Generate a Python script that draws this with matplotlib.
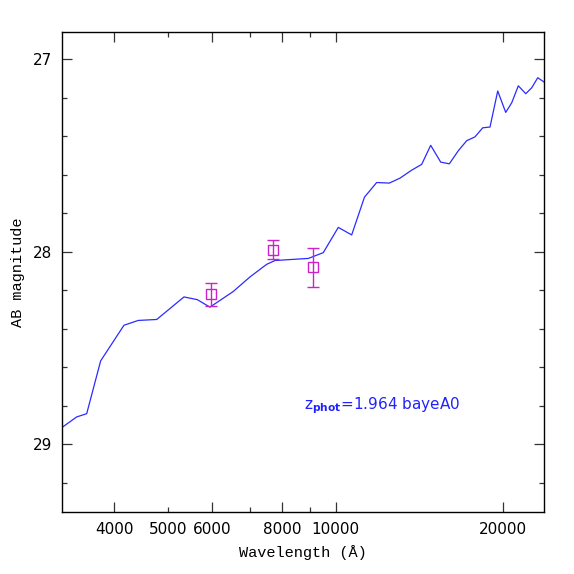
import numpy as np
import matplotlib
matplotlib.use("Agg")
import matplotlib.pyplot as plt
from matplotlib.ticker import NullFormatter

# model SED (wavelength in Angstrom, AB magnitude)
sed_wave = [3227, 3420, 3565, 3777, 4160, 4414, 4765, 5334, 5636, 5940,
            6540, 7012, 7510, 7777, 8277, 8929, 9499, 10108, 10685, 11266,
            11850, 12487, 13056, 13697, 14278, 14822, 15450, 16010, 16618, 17206,
            17808, 18387, 18950, 19566, 20225, 20735, 21309, 21977, 22527, 23094,
            23670]
sed_mag = [28.910, 28.858, 28.841, 28.567, 28.382, 28.357, 28.352, 28.235, 28.249, 28.288,
           28.207, 28.131, 28.066, 28.046, 28.041, 28.035, 28.005, 27.874, 27.913, 27.717,
           27.641, 27.644, 27.618, 27.577, 27.547, 27.448, 27.535, 27.544, 27.476, 27.424,
           27.404, 27.357, 27.353, 27.166, 27.277, 27.227, 27.139, 27.180, 27.149, 27.097,
           27.118]

# observed photometry
phot_wave = [5957, 7722, 9091]
phot_mag = [28.221, 27.989, 28.082]
phot_err = [0.059, 0.048, 0.100]

label_text = r"z$_{\mathbf{phot}}$=1.964 bayeA0"

fig = plt.figure(figsize=(5.74, 5.74), dpi=100)
ax = fig.add_axes([0.1085, 0.1075, 0.8387, 0.8373])

ax.plot(sed_wave, sed_mag, color="#2b2bff", lw=0.9)
ax.errorbar(phot_wave, phot_mag, yerr=phot_err, fmt="s", ms=7, mfc="none",
            mec="#cc22cc", mew=1.0, ecolor="#cc22cc", elinewidth=1.0,
            capsize=4, capthick=1.0)

ax.set_xscale("log")
ax.set_xlim(3222, 23670)
ax.set_ylim(29.353, 26.858)

major_x = [4000, 6000, 8000, 10000, 20000]
minor_x = [5000, 7000, 9000]
ax.set_xticks(major_x, labels=[str(v) for v in major_x])
ax.set_xticks(minor_x, labels=["5000", "", ""], minor=True)
ax.set_yticks([27, 28, 29], labels=["27", "28", "29"])
ax.set_yticks(np.arange(27.2, 29.3, 0.2), minor=True)
ax.yaxis.set_minor_formatter(NullFormatter())

ax.tick_params(which="both", direction="in", top=True, right=True,
               labelsize=11, pad=7, color="#333333")
ax.tick_params(which="major", length=7.5, width=0.9)
ax.tick_params(which="minor", length=3.8, width=0.9)
for sp in ax.spines.values():
    sp.set_linewidth(1.0)

ax.set_xlabel("Wavelength (Å)", family=["Liberation Mono", "DejaVu Sans Mono"],
              fontsize=11, labelpad=6)
ax.set_ylabel("AB magnitude", family=["Liberation Mono", "DejaVu Sans Mono"],
              fontsize=11, labelpad=6)

ax.text(8770, 28.818, label_text, color="#2222ff", fontsize=11, va="baseline")

fig.savefig("out.png", dpi=100)
